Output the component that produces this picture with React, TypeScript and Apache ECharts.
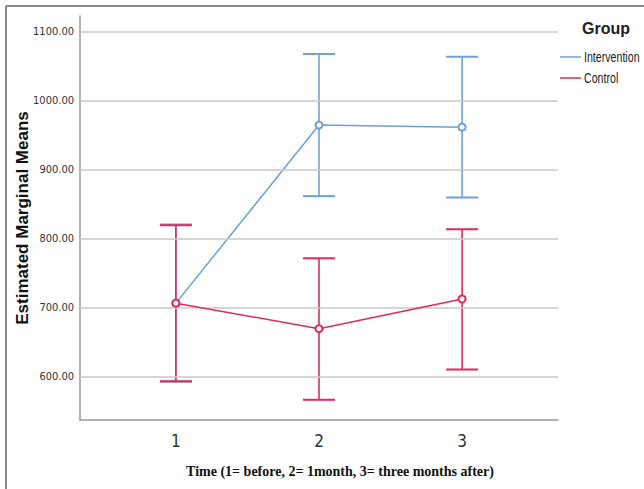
import React, { useEffect, useRef } from "react";
import * as echarts from "echarts";

const timePoints = [1, 2, 3];
const interventionMeans = [707, 965, 962];
const interventionLower = [593, 862, 860];
const interventionUpper = [821, 1068, 1064];
const controlMeans = [707, 670, 713];
const controlLower = [594, 567, 611];
const controlUpper = [820, 772, 814];
const yTicks = [600, 700, 800, 900, 1000, 1100];
const groups = ["Intervention", "Control"];

const BLUE = "#6AA2DA";
const RED = "#E3285A";
const groupColors = [BLUE, RED];
const NARROW = "'DejaVu Sans Condensed', 'Liberation Sans Narrow', 'Arial Narrow', sans-serif";

function errorSeries(name: string, lower: number[], upper: number[], color: string) {
  return {
    type: "custom",
    name: name + "-err",
    z: 3,
    data: timePoints.map((t, i) => [t, lower[i], upper[i]]),
    renderItem: (params: any, api: any) => {
      const x = api.value(0);
      const lo = api.coord([x, api.value(1)]);
      const hi = api.coord([x, api.value(2)]);
      const half = 16;
      const style = { stroke: color, lineWidth: 1.6 };
      return {
        type: "group",
        children: [
          { type: "line", shape: { x1: lo[0], y1: lo[1], x2: hi[0], y2: hi[1] }, style },
          { type: "line", shape: { x1: hi[0] - half, y1: hi[1], x2: hi[0] + half, y2: hi[1] }, style: { stroke: color, lineWidth: 2 } },
          { type: "line", shape: { x1: lo[0] - half, y1: lo[1], x2: lo[0] + half, y2: lo[1] }, style: { stroke: color, lineWidth: 2 } },
        ],
      };
    },
  };
}

export default function App() {
  const ref = useRef<HTMLDivElement>(null);
  useEffect(() => {
    if (!ref.current) return;
    const chart = echarts.init(ref.current, undefined, { renderer: "svg" });
    const legendItems: any[] = [];
    groups.forEach((g, i) => {
      const y = 57 + i * 21;
      legendItems.push({
        type: "line",
        shape: { x1: 560, y1: y, x2: 581, y2: y },
        style: { stroke: groupColors[i], lineWidth: 1.5 },
      });
      legendItems.push({
        type: "text",
        x: 584,
        y: y,
        scaleX: 0.76,
        style: {
          text: g,
          font: "14px 'Liberation Sans', Arial, sans-serif",
          fill: "#222",
          align: "left",
          verticalAlign: "middle",
        },
      });
    });
    chart.setOption({
      animation: false,
      backgroundColor: "#ffffff",
      grid: { left: 80, right: 86, top: 16, bottom: 69 },
      xAxis: {
        type: "value",
        min: 0.33,
        max: 3.67,
        interval: 1,
        splitLine: { show: false },
        axisTick: { show: false },
        axisLine: { lineStyle: { color: "#999999", width: 1.5 } },
        axisLabel: {
          color: "#333",
          fontFamily: NARROW,
          fontSize: 17,
          margin: 12,
          customValues: timePoints,
          formatter: (v: number) => (timePoints.includes(Math.round(v * 100) / 100) ? String(v) : ""),
        },
      },
      yAxis: {
        type: "value",
        min: 537.7,
        max: 1123,
        splitLine: { show: false },
        axisTick: { show: false },
        axisLabel: { show: false },
        axisLine: { show: true, lineStyle: { color: "#999999", width: 1.5 } },
        name: "Estimated Marginal Means",
        nameLocation: "middle",
        nameRotate: 90,
        nameGap: 49,
        nameTextStyle: {
          fontFamily: "'Liberation Sans', Arial, sans-serif",
          fontWeight: "bold",
          fontSize: 17,
          color: "#111",
        },
      },
      graphic: [
        { type: "line", shape: { x1: 6, y1: 6, x2: 644, y2: 6 }, style: { stroke: "#888888", lineWidth: 2 } },
        { type: "line", shape: { x1: 6, y1: 6, x2: 6, y2: 489 }, style: { stroke: "#888888", lineWidth: 2 } },
        {
          type: "text",
          left: 582,
          top: 20,
          style: { text: "Group", font: "bold 16px 'Liberation Sans', Arial, sans-serif", fill: "#222" },
        },
        ...legendItems,
        {
          type: "text",
          x: 340,
          y: 471,
          style: {
            text: "Time (1= before, 2= 1month, 3= three months after)",
            font: "bold 14px 'Liberation Serif', 'Times New Roman', serif",
            fill: "#111",
            align: "center",
            verticalAlign: "middle",
          },
        },
      ],
      series: [
        {
          type: "line",
          name: "grid",
          data: [],
          silent: true,
          markLine: {
            silent: true,
            symbol: "none",
            lineStyle: { color: "#C8C8C8", width: 1.5, type: "solid" },
            label: {
              position: "start",
              distance: 6,
              color: "#333",
              fontFamily: NARROW,
              fontSize: 11,
              formatter: (p: any) => Number(p.value).toFixed(2),
            },
            data: yTicks.map((v) => ({ yAxis: v })),
          },
          z: 1,
        },
        errorSeries("Intervention", interventionLower, interventionUpper, BLUE),
        errorSeries("Control", controlLower, controlUpper, RED),
        {
          type: "line",
          name: "Intervention",
          data: timePoints.map((t, i) => [t, interventionMeans[i]]),
          color: BLUE,
          lineStyle: { color: BLUE, width: 1.5 },
          symbol: "emptyCircle",
          symbolSize: 7,
          itemStyle: { color: BLUE, borderColor: BLUE, borderWidth: 1.3 },
          z: 4,
        },
        {
          type: "line",
          name: "Control",
          data: timePoints.map((t, i) => [t, controlMeans[i]]),
          color: RED,
          lineStyle: { color: RED, width: 1.5 },
          symbol: "emptyCircle",
          symbolSize: 7,
          itemStyle: { color: RED, borderColor: RED, borderWidth: 1.3 },
          z: 5,
        },
      ],
    });
    return () => chart.dispose();
  }, []);
  return <div ref={ref} style={{ width: 644, height: 489, position: "absolute", left: 0, top: 0 }} />;
}
